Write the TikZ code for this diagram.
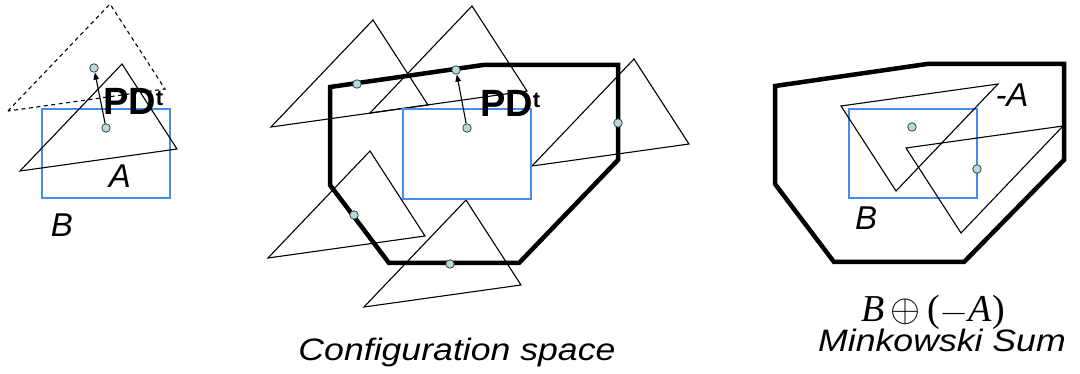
\documentclass[tikz,border=0pt]{standalone}
\usepackage{fontspec}
\setmainfont{Liberation Serif}
\setsansfont{Liberation Sans}
\usetikzlibrary{arrows.meta}
\definecolor{bluec}{RGB}{70,140,240}
\definecolor{dotc}{RGB}{180,220,220}
\begin{document}
\begin{tikzpicture}[x=1pt,y=-1pt,
  tri/.style={draw=black,line width=1.1pt,line join=miter},
  dtri/.style={tri,dash pattern=on 4pt off 3.5pt},
  cspace/.style={draw=black,line width=4.5pt,line join=miter},
  brect/.style={draw=bluec,line width=1.5pt},
  refpt/.style={circle,draw=black!75,fill=dotc,line width=0.8pt,minimum size=8.5pt,inner sep=0pt},
  pdarrow/.style={-{Triangle[length=7pt,width=5.5pt]},line width=1.1pt},
  lbl/.style={font=\sffamily\itshape\fontsize{33}{36}\selectfont,inner sep=0pt,anchor=base},
  captext/.style={font=\sffamily\itshape\fontsize{31}{34}\selectfont,inner sep=0pt,anchor=base},
  pd/.style={inner sep=0pt,anchor=base west}]
\useasboundingbox (0,0) rectangle (1080,374);
\newcommand{\PDt}{{\fontsize{38}{40}\selectfont\sffamily\bfseries PD}{\fontsize{22}{24}\selectfont\sffamily\bfseries\raisebox{9pt}{t}}}

% ---------- left: A and B ----------
\draw[brect] (42,109) rectangle (170,198);
\draw[tri,shift={(106,128)}] (-86,43) -- (16,-64) -- (71,21) -- cycle;
\draw[dtri,shift={(94,68)}] (-86,43) -- (16,-64) -- (71,21) -- cycle;
\node[refpt] (l0) at (106,128) {};
\node[refpt] (l1) at (94,68) {};
\draw[pdarrow] (l0) -- (l1);
\node[pd] (lpd) at (103,115) {\PDt};
\node[lbl] (la) at (120,188) {A};
\node[lbl] (lb) at (62,237) {B};

% ---------- middle: configuration space ----------
\draw[tri,shift={(357,84)}] (-86,43) -- (16,-64) -- (71,21) -- cycle;
\draw[tri,shift={(456,70)}] (-86,43) -- (16,-64) -- (71,21) -- cycle;
\draw[tri,shift={(618,123)}] (-86,43) -- (16,-64) -- (71,21) -- cycle;
\draw[tri,shift={(354,215)}] (-86,43) -- (16,-64) -- (71,21) -- cycle;
\draw[tri,shift={(450,264)}] (-86,43) -- (16,-64) -- (71,21) -- cycle;
\draw[brect] (403,109) rectangle (531,199);
\draw[cspace] (330,87) -- (483,65) -- (618,65) -- (618,160) -- (519,263) -- (389,263) -- (330,185) -- cycle;
\node[refpt] (m0) at (467,128) {};
\node[refpt] (m1) at (357,84) {};
\node[refpt] (m2) at (456,70) {};
\node[refpt] (m3) at (618,123) {};
\node[refpt] (m4) at (354,215) {};
\node[refpt] (m5) at (450,264) {};
\draw[pdarrow] (m0) -- (m2);
\node[pd] (mpd) at (480,117) {\PDt};
\node[captext] (mcap) at (457,360) {\scalebox{1.15}[1]{Configuration space}};

% ---------- right: Minkowski sum ----------
\draw[cspace] (775,86) -- (927,64) -- (1064,64) -- (1064,160) -- (964,262) -- (834,262) -- (775,184) -- cycle;
\draw[brect] (849,109) rectangle (977,198);
\draw[tri,shift={(912,127)}] (86,-43) -- (-16,64) -- (-71,-21) -- cycle;
\draw[tri,shift={(977,169)}] (86,-43) -- (-16,64) -- (-71,-21) -- cycle;
\node[refpt] (r0) at (912,127) {};
\node[refpt] (r1) at (977,169) {};
\node[lbl] (rma) at (1012,107) {-A};
\node[lbl] (rb) at (866,230) {B};
\node[inner sep=0pt,anchor=base,font=\fontsize{38}{40}\selectfont] (rform) at (933,322) {\textit{B}\,\scalebox{1.55}{$\oplus$}\,(\scalebox{1.5}[1.2]{$-$}\textit{A})};
\node[captext] (rcap) at (942,352) {\scalebox{1.15}[1]{Minkowski Sum}};
\end{tikzpicture}
\end{document}
